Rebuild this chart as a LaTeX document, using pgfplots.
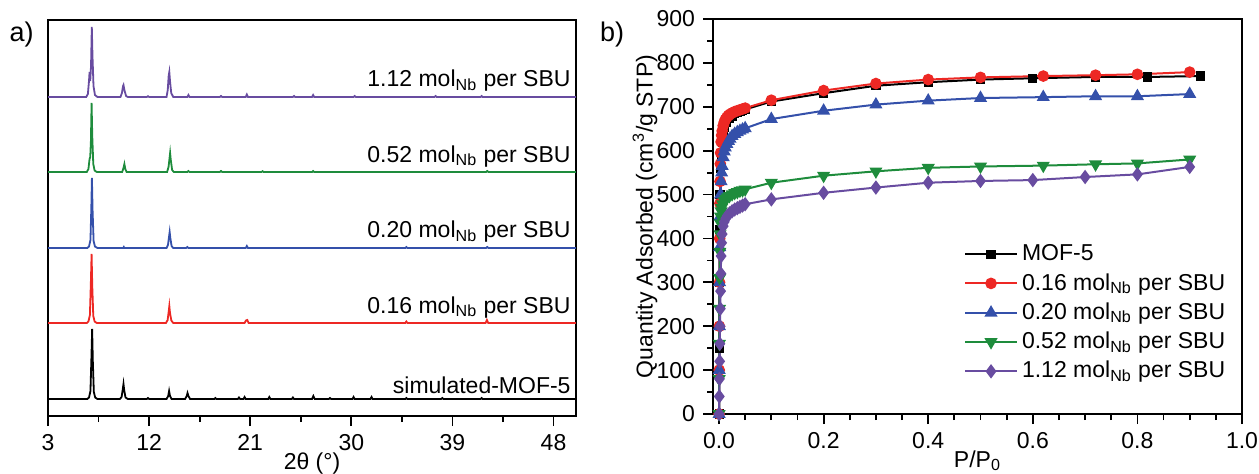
\documentclass[border=0pt]{standalone}
\usepackage{fontspec}
\setmainfont{Liberation Sans}
\usepackage{pgfplots}
\pgfplotsset{compat=1.18}
\definecolor{cblack}{RGB}{0,0,0}
\definecolor{cred}{RGB}{237,40,36}
\definecolor{cblue}{RGB}{52,80,170}
\definecolor{cgreen}{RGB}{30,140,60}
\definecolor{cpurple}{RGB}{104,76,160}
\begin{document}
\fontsize{11.5}{13.8}\selectfont
\begin{tikzpicture}
\path[use as bounding box] (0,0) rectangle (629.5pt,236.5pt);
\pgfplotsset{every axis/.append style={
  /pgf/number format/assume math mode=true,
  tick align=outside, major tick length=5pt, minor tick length=3pt,
  axis line style={line width=1pt}, every tick/.style={line width=0.9pt, black},
  tick label style={font=\fontsize{11.5}{13.8}\selectfont},
  label style={font=\fontsize{11.5}{13.8}\selectfont},
}}
% ---------------- a) XRD ----------------
\begin{axis}[at={(24pt,28.5pt)}, anchor=south west, scale only axis,
  width=264pt, height=198pt, xmin=3, xmax=50, ymin=0, ymax=396,
  xtick={3,12,21,30,39,48}, minor x tick num=1, ytick=\empty,
  xtick pos=bottom,
  xlabel={2θ (°)},
  xlabel style={at={(axis description cs:0.5,-0.119)}, anchor=center},
  every axis plot/.append style={line width=0.9pt, no marks}]
\addplot[cblack] table {
3 17
6.5 17
6.65 18.5
6.78 25
6.87 60
6.93 87
6.99 55
7.08 24
7.2 18.5
7.4 17
9.4 17
9.55 19
9.66 27
9.72 32
9.78 26
9.9 18.5
10.1 17
11.8 17
11.9 18
12.0 17
13.55 17
13.7 20
13.78 25
13.86 20
14.0 17
15.2 17
15.35 20
15.42 23
15.5 20
15.65 17
17.8 17
17.9 18
18.0 17
19.9 17
20.0 18.5
20.1 17
20.4 17
20.5 19
20.6 17
22.6 17
22.7 19
22.8 17
24.7 17
24.8 18.5
24.9 17
26.5 17
26.62 20
26.74 17
28 17
28.1 18
28.2 17
30.1 17
30.2 19
30.3 17
31.7 17
31.8 19
31.9 17
34.8 17
34.9 18
35.0 17
38 17
38.1 18
38.2 17
41.5 17
41.6 18
41.7 17
50 17
};
\addplot[cred] table {
3 93
6.45 93
6.6 94.5
6.73 101
6.82 135
6.88 162
6.94 130
7.03 100
7.15 94.5
7.35 93
13.5 93
13.65 96
13.74 104
13.8 110
13.86 103
13.98 95.5
14.15 93
20.5 93
20.62 95.5
20.74 96
20.86 93
34.8 93
34.9 94.5
35.0 93
41.95 93
42.07 96
42.19 93
50 93
};
\addplot[cblue] table {
3 168
6.5 168
6.65 169.5
6.78 176
6.86 210
6.91 238
6.97 205
7.06 175
7.18 169.5
7.4 168
9.7 168
9.75 169
9.8 168
13.55 168
13.68 171
13.77 179
13.83 184
13.89 178
14.0 170
14.15 168
15.3 168
15.4 169
15.5 168
20.6 168
20.7 170
20.8 168
34.8 168
34.9 169
35 168
42 168
42.1 169
42.2 168
50 168
};
\addplot[cgreen] table {
3 244
6.45 244
6.6 247
6.7 257
6.76 259
6.82 275
6.88 313
6.94 280
7.03 252
7.15 245.5
7.35 244
9.6 244
9.72 248
9.8 252
9.88 247
10.0 244
13.6 244
13.73 249
13.82 258
13.87 263
13.93 256
14.05 246
14.2 244
15.4 244
15.5 245
15.6 244
18.3 244
18.4 245
18.5 244
22 244
22.1 244.8
22.2 244
26.5 244
26.6 245
26.7 244
42 244
42.1 245
42.2 244
50 244
};
\addplot[cpurple] table {
3 319
6.4 319
6.55 322
6.65 335
6.7 344
6.76 335
6.83 350
6.9 389
6.96 360
7.05 330
7.18 321
7.4 319
9.45 319
9.58 323
9.68 330
9.72 331
9.8 326
9.95 320
10.1 319
11.8 319
11.9 319.8
12.0 319
13.55 319
13.66 326
13.74 340
13.8 344
13.86 335
13.97 323
14.15 319
15.4 319
15.5 321
15.6 319
18.3 319
18.4 320
18.5 319
20.6 319
20.7 321.5
20.8 319
24.8 319
24.9 320
25.0 319
26.5 319
26.6 321
26.7 319
30.2 319
30.3 320
30.4 319
37.4 319
37.5 320
37.6 319
41.5 319
41.6 320
41.7 319
50 319
};
\node[anchor=base east, inner sep=0pt] at (axis cs:49.55,329.3) {1.12 mol\textsubscript{Nb} per SBU};
\node[anchor=base east, inner sep=0pt] at (axis cs:49.55,254) {0.52 mol\textsubscript{Nb} per SBU};
\node[anchor=base east, inner sep=0pt] at (axis cs:49.55,178.5) {0.20 mol\textsubscript{Nb} per SBU};
\node[anchor=base east, inner sep=0pt] at (axis cs:49.55,103) {0.16 mol\textsubscript{Nb} per SBU};
\node[anchor=base east, inner sep=0pt] at (axis cs:49.55,23) {simulated-MOF-5};
\end{axis}
% ---------------- b) isotherms ----------------
\begin{axis}[at={(356.5pt,29.5pt)}, anchor=south west, scale only axis,
  width=264.5pt, height=197.5pt, xmin=-0.0115, xmax=1, ymin=0, ymax=900,
  xtick={0,0.2,0.4,0.6,0.8,1}, minor x tick num=3,
  ytick={0,100,200,300,400,500,600,700,800,900}, minor y tick num=1,
  xtick pos=bottom, ytick pos=left,
  xticklabel style={/pgf/number format/.cd, fixed, fixed zerofill, precision=1},
  xlabel={P/P\textsubscript{0}},
  xlabel style={at={(axis description cs:0.5,-0.118)}, anchor=center},
  ylabel={Quantity Adsorbed (cm\textsuperscript{3}/g STP)},
  ylabel style={at={(axis description cs:-0.1285,0.5)}, anchor=center},
  every axis plot/.append style={line width=1pt},
  legend style={at={(axis description cs:0.47,0.445)}, anchor=north west,
    draw=none, fill=none, font=\fontsize{11.5}{13.8}\selectfont, row sep=0.6pt,
    inner sep=1pt},
  legend cell align=left,
  legend image code/.code={\draw[mark repeat=2,mark phase=2] plot coordinates {(0pt,0pt) (13pt,0pt) (26pt,0pt)};}]
\addplot[cblack, mark=square*, mark size=1.8pt] coordinates {
(0.0002,0) (0.0005,150) (0.001,300) (0.0015,420) (0.002,500) (0.003,560) (0.004,590)
(0.006,620) (0.008,640) (0.01,652) (0.015,665) (0.02,673) (0.025,679) (0.03,684)
(0.035,687) (0.04,690) (0.045,692) (0.05,694) (0.1,712) (0.2,731) (0.3,748) (0.4,756)
(0.5,762) (0.6,765) (0.72,768) (0.82,768) (0.92,770)};
\addlegendentry{MOF-5}
\addplot[cred, mark=*, mark size=2.4pt] coordinates {
(0.0002,0) (0.0004,100) (0.0007,200) (0.001,300) (0.0013,400) (0.0017,480) (0.002,530)
(0.0025,570) (0.003,595) (0.004,620) (0.005,635) (0.006,645) (0.008,657) (0.01,665)
(0.012,671) (0.015,676) (0.018,680) (0.021,683) (0.025,686) (0.03,689) (0.035,691)
(0.04,693) (0.045,695) (0.05,697) (0.1,715) (0.2,737) (0.3,753) (0.4,762) (0.5,767)
(0.62,770) (0.72,772) (0.80,774) (0.90,779)};
\addlegendentry{0.16 mol\textsubscript{Nb} per SBU}
\addplot[cblue, mark=triangle*, mark size=2.8pt] coordinates {
(0.0002,0) (0.0004,100) (0.0007,200) (0.001,300) (0.0013,380) (0.002,450) (0.003,500)
(0.004,530) (0.005,550) (0.006,565) (0.008,585) (0.01,598) (0.012,607) (0.015,615)
(0.018,622) (0.021,627) (0.025,633) (0.03,638) (0.035,642) (0.04,645) (0.045,648)
(0.05,651) (0.1,672) (0.2,691) (0.3,705) (0.4,714) (0.5,720) (0.62,722) (0.72,724)
(0.80,724) (0.90,729)};
\addlegendentry{0.20 mol\textsubscript{Nb} per SBU}
\addplot[cgreen, mark=triangle*, mark options={rotate=180}, mark size=2.8pt] coordinates {
(0.0002,0) (0.0004,80) (0.0007,160) (0.001,240) (0.0013,310) (0.0017,370) (0.002,410)
(0.0025,435) (0.003,450) (0.004,462) (0.005,470) (0.007,478) (0.01,485) (0.013,490)
(0.016,494) (0.02,497) (0.025,501) (0.03,504) (0.035,506) (0.04,509) (0.045,510)
(0.05,512) (0.1,527) (0.2,543) (0.3,553) (0.4,561) (0.5,564) (0.62,566) (0.72,569)
(0.80,571) (0.90,580)};
\addlegendentry{0.52 mol\textsubscript{Nb} per SBU}
\addplot[cpurple, mark=diamond*, mark size=2.8pt] coordinates {
(0.0002,0) (0.0005,40) (0.0008,80) (0.0012,120) (0.0016,160) (0.002,200) (0.0025,240)
(0.003,280) (0.0035,320) (0.004,360) (0.005,390) (0.006,410) (0.008,428) (0.01,438)
(0.013,446) (0.016,452) (0.02,457) (0.025,462) (0.03,466) (0.035,469) (0.04,472)
(0.045,475) (0.05,478) (0.1,489) (0.2,504) (0.3,516) (0.4,527) (0.5,531) (0.6,533)
(0.7,540) (0.8,546) (0.9,563)};
\addlegendentry{1.12 mol\textsubscript{Nb} per SBU}
\end{axis}
\node[font=\fontsize{13.5}{16}\selectfont] at (10.8pt,219pt) {a)};
\node[font=\fontsize{13.5}{16}\selectfont] at (306pt,219pt) {b)};
\end{tikzpicture}
\end{document}
